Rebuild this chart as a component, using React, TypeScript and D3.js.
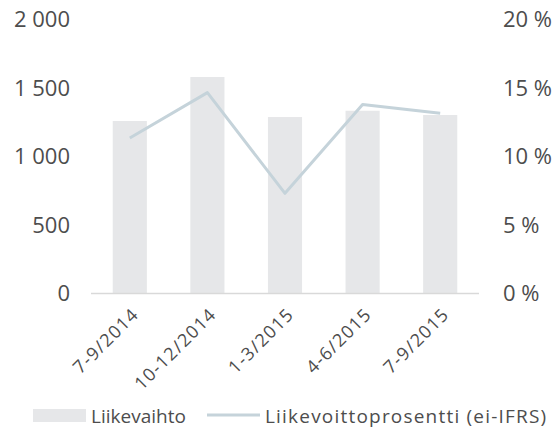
import * as d3 from "d3";
import { useEffect, useRef } from "react";

const categories = ["7-9/2014", "10-12/2014", "1-3/2015", "4-6/2015", "7-9/2015"];
const revenue = [1259, 1580, 1288, 1334, 1303];
const marginPct = [11.35, 14.66, 7.31, 13.8, 13.15];
const leftTicks = [0, 500, 1000, 1500, 2000];
const rightTicks = [0, 5, 10, 15, 20];

export default function App() {
  const ref = useRef<SVGSVGElement>(null);

  useEffect(() => {
    const font = "'Open Sans', sans-serif";
    const textColor = "#4d4d4d";

    const svg = d3.select(ref.current);
    svg.selectAll("*").remove();

    // scales
    const x = d3.scaleBand()
      .domain(categories)
      .range([91, 479])
      .paddingInner(0.56)
      .paddingOuter(0.28);

    const yL = d3.scaleLinear().domain([0, 2000]).range([293.5, 19.5]);
    const yR = d3.scaleLinear().domain([0, 20]).range([293.5, 19.5]);

    // bars
    svg.append("g")
      .selectAll("rect")
      .data(revenue)
      .join("rect")
      .attr("x", (d, i) => x(categories[i]))
      .attr("y", d => yL(d))
      .attr("width", x.bandwidth())
      .attr("height", d => yL(0) - yL(d))
      .attr("fill", "#e6e7e9");

    // baseline
    svg.append("line")
      .attr("x1", 91).attr("x2", 479)
      .attr("y1", yL(0)).attr("y2", yL(0))
      .attr("stroke", "#d9d9d9")
      .attr("stroke-width", 1.5);

    // line
    const line = d3.line<number>()
      .x((d, i) => x(categories[i]) + x.bandwidth() / 2)
      .y(d => yR(d));

    svg.append("path")
      .datum(marginPct)
      .attr("fill", "none")
      .attr("stroke", "#c5d3da")
      .attr("stroke-width", 3)
      .attr("stroke-linejoin", "round")
      .attr("d", line);

    // left axis labels
    const fmt = (v: number) => d3.format(",")(v).replace(/,/g, " ");
    svg.append("g")
      .selectAll("text")
      .data(leftTicks)
      .join("text")
      .attr("x", 70)
      .attr("y", d => yL(d))
      .attr("dy", "0.35em")
      .attr("text-anchor", "end")
      .attr("font-family", font)
      .attr("font-size", 22)
      .attr("fill", textColor)
      .text(d => fmt(d));

    // right axis labels
    svg.append("g")
      .selectAll("text")
      .data(rightTicks)
      .join("text")
      .attr("x", 503)
      .attr("y", d => yR(d))
      .attr("dy", "0.35em")
      .attr("font-family", font)
      .attr("font-size", 22)
      .attr("fill", textColor)
      .text(d => `${d} %`);

    // x labels, rotated
    svg.append("g")
      .selectAll("text")
      .data(categories)
      .join("text")
      .attr("transform", d => `translate(${x(d) + x.bandwidth() / 2 + 10},${yL(0) + 22}) rotate(-45)`)
      .attr("text-anchor", "end")
      .attr("font-family", font)
      .attr("font-size", 18)
      .attr("letter-spacing", 1.2)
      .attr("fill", textColor)
      .text(d => d);

    // legend
    const lg = svg.append("g");
    lg.append("rect")
      .attr("x", 33).attr("y", 409)
      .attr("width", 53).attr("height", 13)
      .attr("fill", "#e6e7e9");
    lg.append("text")
      .attr("x", 91).attr("y", 416)
      .attr("dy", "0.35em")
      .attr("font-family", font)
      .attr("font-size", 19)
      .attr("fill", textColor)
      .text("Liikevaihto");
    lg.append("line")
      .attr("x1", 207).attr("x2", 260)
      .attr("y1", 415).attr("y2", 415)
      .attr("stroke", "#c5d3da")
      .attr("stroke-width", 3);
    lg.append("text")
      .attr("x", 265).attr("y", 416)
      .attr("dy", "0.35em")
      .attr("font-family", font)
      .attr("font-size", 19)
      .attr("letter-spacing", 1.2)
      .attr("fill", textColor)
      .text("Liikevoittoprosentti (ei-IFRS)");
  }, []);

  return (
    <svg
      ref={ref}
      width={556}
      height={428}
      style={{ position: "absolute", left: 0, top: 0, background: "#fff" }}
    />
  );
}
